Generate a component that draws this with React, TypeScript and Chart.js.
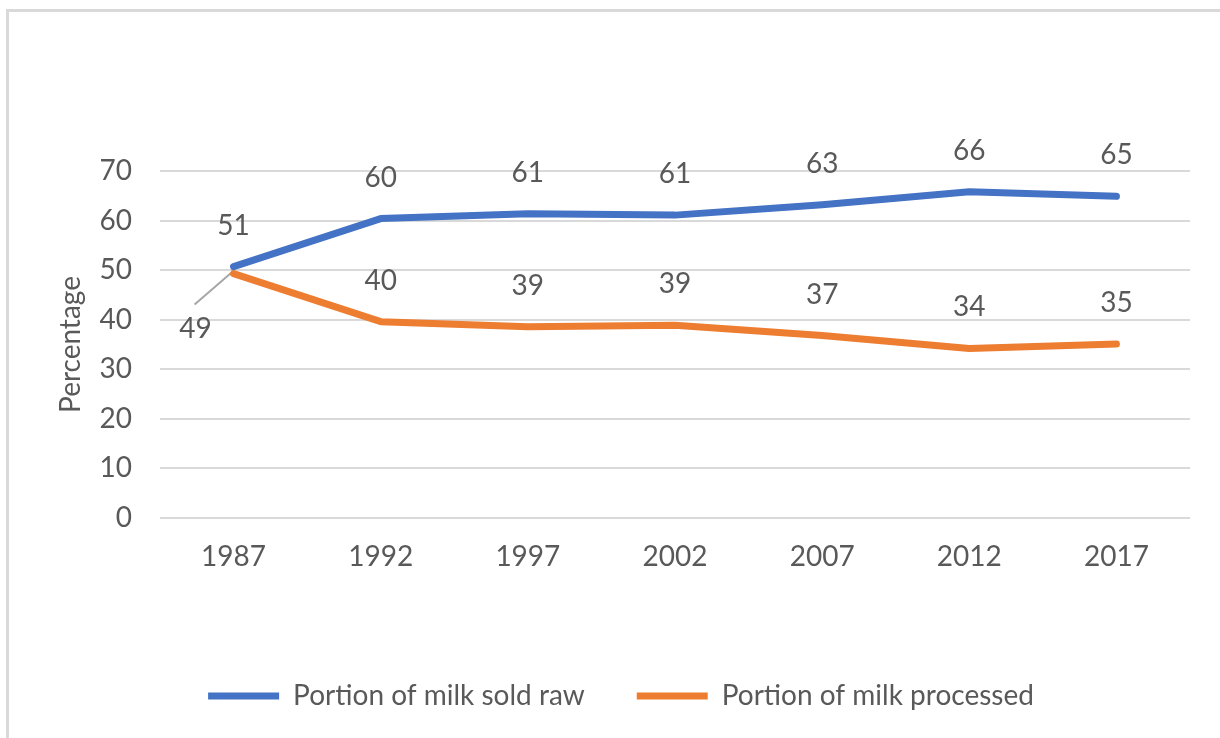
import React, { useEffect, useRef } from 'react';
import { Chart, registerables } from 'chart.js';

Chart.register(...registerables);

const categories = ['1987', '1992', '1997', '2002', '2007', '2012', '2017'];
const soldRaw = [50.7, 60.4, 61.4, 61.1, 63.2, 65.8, 64.9];
const processed = [49.3, 39.6, 38.6, 38.9, 36.8, 34.2, 35.1];
const seriesNames = ['Portion of milk sold raw', 'Portion of milk processed'];
const axisTitle = 'Percentage';
const yMin = 0;
const yMax = 70;
const yStep = 10;

const FONT = 'Lato';
const FS = 28;
const TEXT = '#595959';
const BLUE = '#4472C4';
const ORANGE = '#ED7D31';
const GRID = '#d9d9d9';

const valueLabels = {
  id: 'valueLabels',
  beforeDatasetsDraw(chart: any) {
    // leader line for the first point of the second series
    const meta = chart.getDatasetMeta(1);
    const pt = meta.data[0];
    if (!pt) return;
    const ctx = chart.ctx;
    ctx.save();
    ctx.strokeStyle = '#a6a6a6';
    ctx.lineWidth = 2;
    ctx.beginPath();
    ctx.moveTo(pt.x - 2, pt.y - 1);
    ctx.lineTo(pt.x - 39, pt.y + 31);
    ctx.stroke();
    ctx.restore();
  },
  afterDatasetsDraw(chart: any) {
    const ctx = chart.ctx;
    ctx.save();
    ctx.font = `${FS}px ${FONT}`;
    ctx.fillStyle = TEXT;
    ctx.textAlign = 'center';
    ctx.textBaseline = 'middle';
    chart.data.datasets.forEach((ds: any, di: number) => {
      const meta = chart.getDatasetMeta(di);
      meta.data.forEach((pt: any, i: number) => {
        const v = Math.round(ds.data[i]);
        let x = pt.x;
        let y = pt.y - 41;
        if (di === 1 && i === 0) {
          x = pt.x - 38;
          y = pt.y + 55;
        }
        ctx.fillText(String(v), x, y);
      });
    });
    ctx.restore();
  },
};

export default function App() {
  const ref = useRef<HTMLCanvasElement>(null);

  useEffect(() => {
    document.body.style.margin = '0';
    const canvas = ref.current;
    if (!canvas) return;
    const chart = new Chart(canvas, {
      type: 'line',
      data: {
        labels: categories,
        datasets: [
          {
            label: seriesNames[0],
            data: soldRaw,
            borderColor: BLUE,
            backgroundColor: BLUE,
            borderWidth: 7,
            borderCapStyle: 'round',
            borderJoinStyle: 'round',
            pointRadius: 0,
            pointHoverRadius: 0,
            tension: 0,
          },
          {
            label: seriesNames[1],
            data: processed,
            borderColor: ORANGE,
            backgroundColor: ORANGE,
            borderWidth: 7,
            borderCapStyle: 'round',
            borderJoinStyle: 'round',
            pointRadius: 0,
            pointHoverRadius: 0,
            tension: 0,
          },
        ],
      },
      options: {
        animation: false,
        responsive: true,
        maintainAspectRatio: false,
        layout: { padding: { top: 159, right: 30, left: 43, bottom: 18 } },
        plugins: {
          tooltip: { enabled: false },
          legend: {
            position: 'bottom',
            labels: {
              usePointStyle: true,
              pointStyle: 'line',
              pointStyleWidth: 71,
              font: { family: FONT, size: FS },
              color: TEXT,
              padding: 52,
            },
          },
        },
        scales: {
          x: {
            offset: true,
            grid: { display: false, drawTicks: false },
            border: { display: false },
            ticks: { font: { family: FONT, size: FS }, color: TEXT, padding: 22 },
            afterFit: (scale: any) => {
              scale.height = 112;
            },
          },
          y: {
            min: yMin,
            max: yMax,
            ticks: { stepSize: yStep, font: { family: FONT, size: FS }, color: TEXT, padding: 28 },
            grid: { color: GRID, lineWidth: 2, drawTicks: false },
            border: { display: false },
            title: {
              display: true,
              text: axisTitle,
              font: { family: FONT, size: FS },
              color: TEXT,
              padding: { top: 2, bottom: 0 },
            },
            afterFit: (scale: any) => {
              scale.width = 108;
            },
          },
        },
      },
      plugins: [valueLabels],
    });
    return () => chart.destroy();
  }, []);

  return (
    <div style={{ position: 'relative', width: 1220, height: 738, background: '#fff', overflow: 'hidden' }}>
      <div
        style={{
          position: 'absolute',
          left: 6,
          top: 9,
          right: 0,
          bottom: 0,
          borderTop: '3px solid #d9d9d9',
          borderLeft: '3px solid #d9d9d9',
        }}
      />
      <div style={{ position: 'absolute', left: 9, top: 12, width: 1211, height: 726 }}>
        <canvas ref={ref} />
      </div>
    </div>
  );
}
